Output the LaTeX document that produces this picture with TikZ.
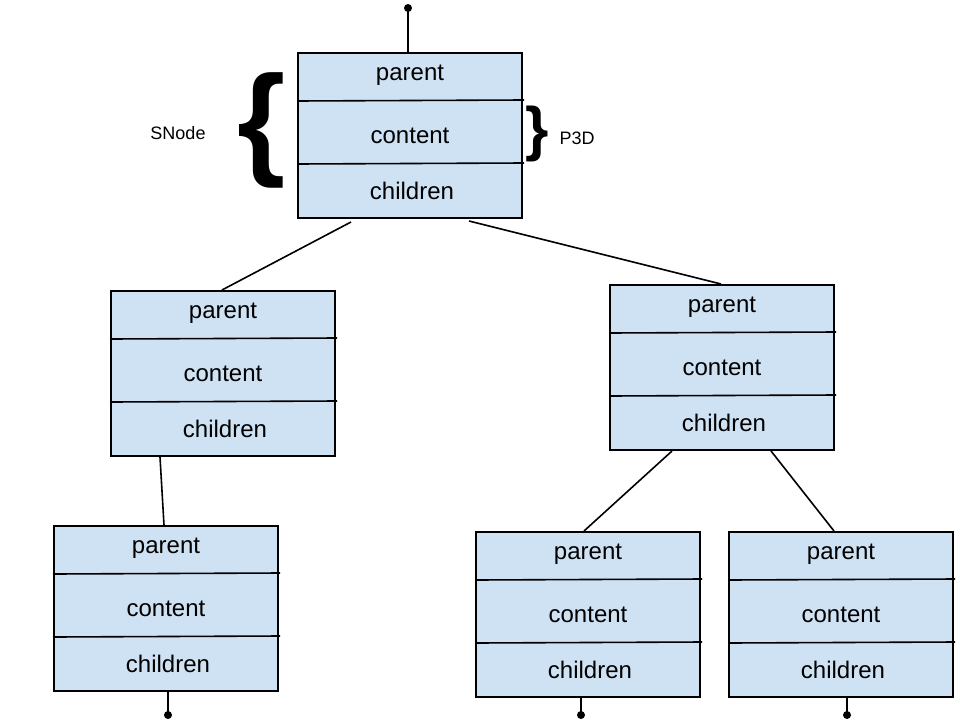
\documentclass[tikz,border=0pt]{standalone}
\usepackage{fontspec}
\setmainfont{Liberation Sans}
\definecolor{boxfill}{HTML}{CFE2F3}
\tikzset{
  snodebox/.style={draw=black, line width=2pt, fill=boxfill, rectangle, minimum width=224pt, minimum height=165pt, inner sep=0pt, anchor=north west},
  divider/.style={line width=1.6pt},
  conn/.style={line width=1.6pt},
  fieldtext/.style={font=\fontsize{24}{28}\selectfont, anchor=base, inner sep=0pt},
  labeltext/.style={font=\fontsize{18}{21}\selectfont, inner sep=0pt},
  enddot/.style={circle, fill=black, minimum size=8pt, inner sep=0pt},
}
\newcommand{\snodedraw}[3]{%
  \node[snodebox] (#1) at (#2,#3) {};
  \draw[divider] ([yshift=-49pt]#1.north west) -- ([yshift=-48pt,xshift=1pt]#1.north east);
  \draw[divider] ([yshift=-112pt]#1.north west) -- ([yshift=-111pt,xshift=1pt]#1.north east);
  \node[fieldtext] (#1p) at ([yshift=-28pt]#1.north) {parent};
  \node[fieldtext] (#1c) at ([yshift=-91pt]#1.north) {content};
  \node[fieldtext] (#1h) at ([yshift=-147pt,xshift=2pt]#1.north) {children};
}
\begin{document}
\begin{tikzpicture}[x=1pt,y=-1pt]
\useasboundingbox (0,0) rectangle (960,720);
\fill[white] (0,0) rectangle (960,720);
\snodedraw{A}{297}{52}
\snodedraw{B}{110}{290}
\snodedraw{C}{609}{284}
\snodedraw{D}{53}{525}
\snodedraw{E}{475}{531}
\snodedraw{F}{728}{531}
% top and bottom dots
\node[enddot] (topdot) at (408,8) {};
\node[enddot] (ddot) at (168,715) {};
\node[enddot] (edot) at (581,715) {};
\node[enddot] (fdot) at (847,715) {};
\draw[conn] (topdot.center) -- ([xshift=111pt]A.north west);
\draw[conn] ([xshift=115pt]D.south west) -- (ddot.center);
\draw[conn] ([xshift=106pt]E.south west) -- (edot.center);
\draw[conn] ([xshift=119pt]F.south west) -- (fdot.center);
% tree connectors
\draw[conn] ([xshift=54pt,yshift=-3pt]A.south west) -- ([xshift=112pt]B.north west);
\draw[conn] ([xshift=172pt,yshift=-2pt]A.south west) -- ([xshift=112pt]C.north west);
\draw[conn] ([xshift=50pt]B.south west) -- ([xshift=111pt]D.north west);
\draw[conn] ([xshift=63pt]C.south west) -- ([xshift=109pt]E.north west);
\draw[conn] ([xshift=162pt]C.south west) -- ([xshift=106pt]F.north west);
% braces and labels
\node[anchor=base west, inner sep=0pt, font=\bfseries\fontsize{124}{124}\selectfont] (lbrace) at (237,162) {\{};
\node[anchor=base west, inner sep=0pt, font=\bfseries\fontsize{60}{60}\selectfont] (rbrace) at (525,149) {\}};
\node[labeltext] (snode) at (178,133) {SNode};
\node[labeltext] (p3d) at (577,138) {P3D};
\end{tikzpicture}
\end{document}
